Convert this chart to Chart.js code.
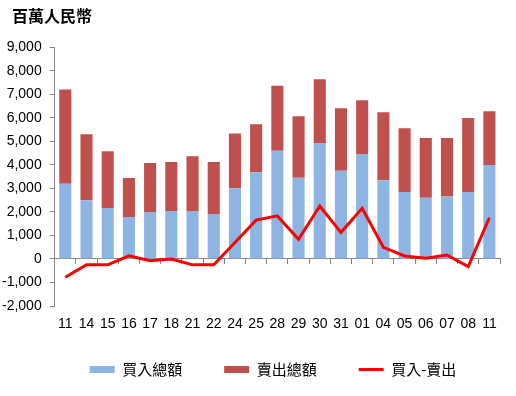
<!DOCTYPE html>
<html>
<head>
<meta charset="utf-8">
<script src="https://cdn.jsdelivr.net/npm/chart.js@4"></script>
<style>
  html, body { margin: 0; padding: 0; background: #fff; }
</style>
</head>
<body>
<canvas id="chart" width="516" height="396"></canvas>
<script>
// Data (百萬人民幣)
const labels = ['11','14','15','16','17','18','21','22','24','25','28','29','30','31','01','04','05','06','07','08','11'];
const buyTotal  = [3200,2500,2170,1780,2000,2040,2040,1910,3000,3690,4600,3450,4930,3750,4460,3350,2850,2600,2650,2850,3990];
const sellTotal = [4000,2800,2410,1660,2080,2080,2330,2210,2330,2040,2760,2620,2710,2660,2290,2890,2710,2540,2490,3140,2290];
const netFlow   = [-780,-250,-250,130,-80,0,-250,-250,700,1650,1830,835,2250,1130,2150,495,127,30,170,-325,1750];

const axisGray = '#868686';
const numFont = "'Liberation Sans', Arial, sans-serif";
const cjkFont = "'Noto Sans CJK TC', 'Liberation Sans', sans-serif";

Chart.defaults.color = '#000';
Chart.defaults.font.family = numFont;

// nudge title and legend into the same spots as the original layout
const nudge = {
  id: 'nudge',
  afterLayout(chart) {
    const t = chart.titleBlock;
    t.left += 18; t.right += 18;
    const lg = chart.legend;
    lg.left += 26; lg.right += 26;
    lg.top += 14; lg.bottom += 14;
  }
};

new Chart(document.getElementById('chart'), {
  type: 'bar',
  data: {
    labels: labels,
    datasets: [
      {
        label: '買入總額',
        data: buyTotal,
        backgroundColor: '#8EB4E3',
        stack: 'a',
        order: 2,
        pointStyle: 'rect',
        categoryPercentage: 1,
        barPercentage: 0.57
      },
      {
        label: '賣出總額',
        data: sellTotal,
        backgroundColor: '#C0504D',
        stack: 'a',
        order: 2,
        pointStyle: 'rect',
        categoryPercentage: 1,
        barPercentage: 0.57
      },
      {
        type: 'line',
        label: '買入-賣出',
        data: netFlow,
        borderColor: '#FF0000',
        backgroundColor: '#FF0000',
        borderWidth: 3,
        pointRadius: 0,
        pointBorderWidth: 3,
        pointStyle: 'line',
        tension: 0,
        stack: 'b',
        order: 1
      }
    ]
  },
  options: {
    responsive: false,
    animation: false,
    layout: { padding: { left: -6, right: 16, bottom: 23, top: 0 } },
    plugins: {
      tooltip: { enabled: false },
      title: {
        display: true,
        text: '百萬人民幣',
        align: 'start',
        color: '#000',
        font: { family: cjkFont, size: 16, weight: 'bold' },
        padding: { top: 6, bottom: 22 }
      },
      legend: {
        position: 'bottom',
        labels: {
          usePointStyle: true,
          pointStyleWidth: 25,
          boxHeight: 7,
          padding: 42,
          color: '#000',
          font: { family: cjkFont, size: 15 },
          sort: (a, b) => a.datasetIndex - b.datasetIndex
        }
      }
    },
    scales: {
      x: {
        stacked: true,
        offset: true,
        position: { y: -2000 },
        grid: { display: false, drawTicks: false },
        border: { display: false },
        ticks: { font: { size: 14 }, padding: 10, maxRotation: 0, autoSkip: false }
      },
      x2: {
        type: 'category',
        axis: 'x',
        position: { y: 0 },
        labels: labels,
        offset: true,
        grid: { offset: true, drawOnChartArea: false, tickLength: 5, color: axisGray },
        border: { color: axisGray },
        ticks: { display: false }
      },
      y: {
        stacked: true,
        min: -2000,
        max: 9000,
        grid: { drawOnChartArea: false, tickLength: 5, color: axisGray },
        border: { color: axisGray },
        ticks: {
          stepSize: 1000,
          padding: 8,
          font: { size: 14 },
          callback: v => v.toLocaleString('en-US')
        }
      }
    }
  },
  plugins: [nudge]
});
</script>
</body>
</html>
